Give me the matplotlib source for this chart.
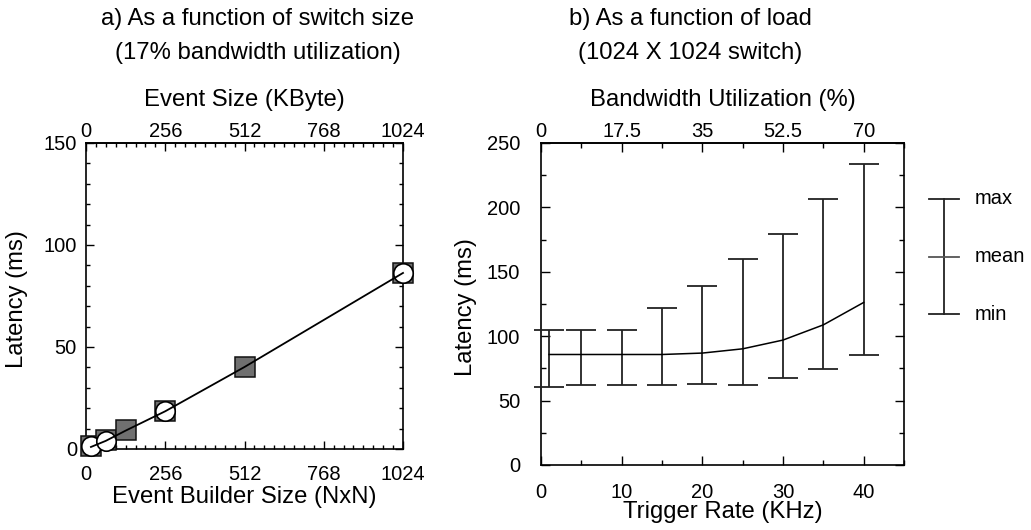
import matplotlib
matplotlib.use("Agg")
import matplotlib.pyplot as plt
from matplotlib.ticker import MultipleLocator, FixedLocator, FuncFormatter
import numpy as np

plt.rcParams['font.family'] = ['Liberation Sans', 'DejaVu Sans']

# ---------------- data: panel a ----------------
square_n = [16, 64, 128, 256, 512, 1024]
square_latency = [1.4, 4.3, 9.5, 18.5, 40.2, 86.3]
circle_n = [16, 64, 256, 1024]
circle_latency = [1.3, 4.0, 18.5, 86.3]
line_n = [16, 64, 128, 256, 512, 1024]
line_latency = [1.0, 4.0, 9.0, 18.5, 40.2, 86.3]
a_xticks = [0, 256, 512, 768, 1024]
a_yticks = [0, 50, 100, 150]

# ---------------- data: panel b ----------------
trigger_rate = [1, 5, 10, 15, 20, 25, 30, 35, 40]
lat_mean = [85.8, 85.8, 85.8, 85.8, 86.9, 90.2, 97.0, 108.8, 126.2]
lat_min = [60.8, 61.8, 61.8, 61.8, 62.8, 61.8, 67.5, 74.7, 85.3]
lat_max = [104.7, 104.7, 104.7, 121.8, 138.8, 160.0, 179.7, 206.6, 233.5]
b_xticks = [0, 10, 20, 30, 40]
b_yticks = [0, 50, 100, 150, 200, 250]
bw_ticks = [0, 17.5, 35, 52.5, 70]
bw_per_khz = 1.75

TICK = 14.5
LAB = 17.2
W, H = 1031, 530

fig = plt.figure(figsize=(W / 100, H / 100), dpi=100)

# ================= panel a =================
ax1 = fig.add_axes([86 / W, 1 - 449 / H, 317 / W, 306 / H])
ax1.set_xlim(0, 1024)
ax1.set_ylim(0, 150)
ax1.plot(square_n, square_latency, ls='none', marker='s', ms=14.5,
         mfc='#707070', mec='#111111', mew=1.1, zorder=3, clip_on=False)
ax1.plot(circle_n, circle_latency, ls='none', marker='o', ms=14,
         mfc='white', mec='black', mew=1.2, zorder=4, clip_on=False)
ax1.plot(line_n, line_latency, color='black', lw=1.3, zorder=5, clip_on=False)

ax1.xaxis.set_major_locator(FixedLocator(a_xticks))
ax1.xaxis.set_minor_locator(MultipleLocator(32))
ax1.yaxis.set_major_locator(FixedLocator(a_yticks))
ax1.yaxis.set_minor_locator(MultipleLocator(10))
ax1.tick_params(which='both', direction='in', right=True, top=False,
                labelsize=TICK, width=1)
ax1.tick_params(which='major', length=6)
ax1.tick_params(which='minor', length=3)
ax1.tick_params(axis='y', pad=6.5)
ax1.tick_params(axis='x', pad=11.5)
for s in ax1.spines.values():
    s.set_linewidth(1.2)

sec1 = ax1.secondary_xaxis('top', functions=(lambda x: x, lambda x: x))
sec1.xaxis.set_major_locator(FixedLocator(a_xticks))
sec1.xaxis.set_minor_locator(MultipleLocator(32))
sec1.tick_params(which='both', direction='in', labelsize=TICK, width=1, pad=1.5)
sec1.tick_params(which='major', length=6)
sec1.tick_params(which='minor', length=3)
sec1.spines['top'].set_linewidth(1.2)

ax1.set_ylabel('Latency (ms)', fontsize=LAB, va='center')
ax1.yaxis.set_label_coords(-0.218, 0.49)
ax1.set_xlabel('Event Builder Size (NxN)', fontsize=LAB, va='center')
ax1.xaxis.set_label_coords(0.5, -0.157)
sec1.set_xlabel('Event Size (KByte)', fontsize=LAB, va='center')
sec1.xaxis.set_label_coords(0.5, 1.1405, transform=ax1.transAxes)

fig.text(257.5 / W, 1 - 19 / H, 'a) As a function of switch size',
         ha='center', va='center', fontsize=LAB)
fig.text(257.5 / W, 1 - 53 / H, '(17% bandwidth utilization)',
         ha='center', va='center', fontsize=LAB)

# ================= panel b =================
ax2 = fig.add_axes([541 / W, 1 - 465 / H, 363 / W, 322 / H])
ax2.set_xlim(0, 45)
ax2.set_ylim(0, 250)
mean = np.array(lat_mean)
err = [mean - np.array(lat_min), np.array(lat_max) - mean]
eb = ax2.errorbar(trigger_rate, lat_mean, yerr=err, fmt='none',
                  ecolor='#222222', elinewidth=1.3, capsize=10.8,
                  capthick=1.3, zorder=3)
for art in list(eb.lines[1]) + list(eb.lines[2]):
    art.set_clip_on(False)
ax2.plot(trigger_rate, lat_mean, color='black', lw=1.1, zorder=4)

ax2.xaxis.set_major_locator(FixedLocator(b_xticks))
ax2.xaxis.set_minor_locator(MultipleLocator(5))
ax2.yaxis.set_major_locator(FixedLocator(b_yticks))
ax2.yaxis.set_minor_locator(MultipleLocator(25))
ax2.tick_params(which='both', direction='in', right=True, top=False,
                labelsize=TICK, width=1)
ax2.tick_params(which='major', length=6.5)
ax2.tick_params(which='minor', length=3.5)
ax2.tick_params(axis='y', pad=15)
ax2.tick_params(axis='x', pad=13)
for s in ax2.spines.values():
    s.set_linewidth(1.2)

sec2 = ax2.secondary_xaxis('top', functions=(lambda x: x * bw_per_khz,
                                             lambda x: x / bw_per_khz))
sec2.xaxis.set_major_locator(FixedLocator(bw_ticks))
sec2.xaxis.set_minor_locator(MultipleLocator(bw_per_khz * 5))
sec2.xaxis.set_major_formatter(FuncFormatter(lambda v, p: '%g' % v))
sec2.tick_params(which='both', direction='in', labelsize=TICK, width=1, pad=1.5)
sec2.tick_params(which='major', length=6.5)
sec2.tick_params(which='minor', length=3.5)
sec2.spines['top'].set_linewidth(1.2)

ax2.set_ylabel('Latency (ms)', fontsize=LAB, va='center')
ax2.yaxis.set_label_coords(-0.2066, 0.489)
ax2.set_xlabel('Trigger Rate (KHz)', fontsize=LAB, va='center')
ax2.xaxis.set_label_coords(0.5, -0.146)
sec2.set_xlabel('Bandwidth Utilization (%)', fontsize=LAB, va='center')
sec2.xaxis.set_label_coords(0.5, 1.1335, transform=ax2.transAxes)

fig.text(690 / W, 1 - 19 / H, 'b) As a function of load',
         ha='center', va='center', fontsize=LAB)
fig.text(690 / W, 1 - 53 / H, '(1024 X 1024 switch)',
         ha='center', va='center', fontsize=LAB)

# ================= key (max / mean / min) =================
key = fig.add_axes([0, 0, 1, 1])
key.set_xlim(0, W)
key.set_ylim(H, 0)
key.axis('off')
key.plot([944, 944], [199, 314], color='#222222', lw=1.3)
for yy, lab, col in [(199, 'max', '#222222'), (257, 'mean', '#555555'),
                     (314, 'min', '#222222')]:
    key.plot([929, 959], [yy, yy], color=col, lw=1.3)
    key.text(975, yy, lab, ha='left', va='center', fontsize=14.5)

fig.savefig('out.png', dpi=100)
